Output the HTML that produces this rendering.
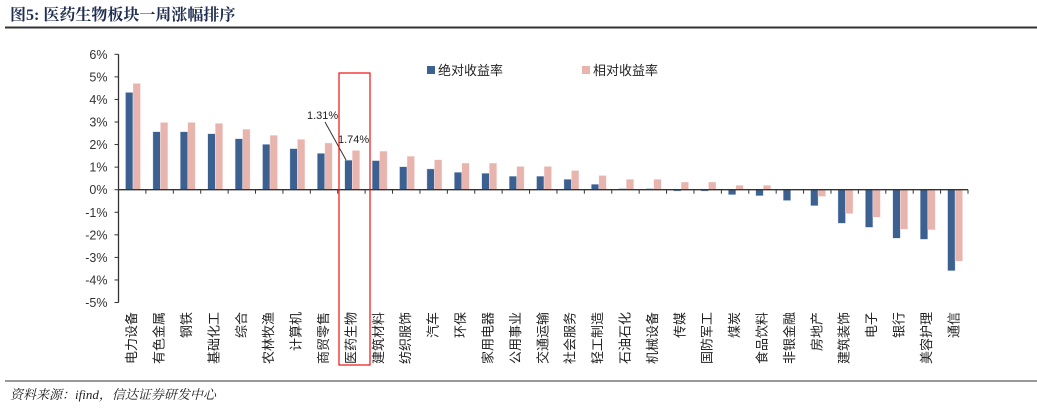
<!DOCTYPE html>
<html><head><meta charset="utf-8"><style>
html,body{margin:0;padding:0;background:#fff;}
svg{display:block;}
</style></head><body>
<svg id="chart" width="1037" height="409" xmlns="http://www.w3.org/2000/svg">
<text x="10" y="20" font-family="'Liberation Serif','Noto Serif CJK SC',serif" font-weight="bold" font-size="16" fill="#1f2d50">图5: 医药生物板块一周涨幅排序</text>
<line x1="5" y1="27.5" x2="1037" y2="27.5" stroke="#333" stroke-width="2"/>
<g id="yaxis"></g>
<g id="bars"></g>
<g id="xaxis"></g>
<rect x="427" y="66" width="8" height="8" fill="#3c6190"/>
<text x="438" y="75" font-family="'Liberation Sans','Noto Sans CJK SC',sans-serif" font-size="13" fill="#222">绝对收益率</text>
<rect x="582" y="66" width="8" height="8" fill="#e8b4ae"/>
<text x="593" y="75" font-family="'Liberation Sans','Noto Sans CJK SC',sans-serif" font-size="13" fill="#222">相对收益率</text>
<text x="307" y="119" font-family="'Liberation Sans',sans-serif" font-size="11" fill="#222">1.31%</text>
<text x="338" y="143" font-family="'Liberation Sans',sans-serif" font-size="11" fill="#222">1.74%</text>
<line x1="325" y1="122" x2="346" y2="160" stroke="#333" stroke-width="1"/>
<rect x="339" y="73" width="31" height="292" fill="none" stroke="#f01010" stroke-width="1.2"/>
<line x1="5" y1="381" x2="1037" y2="381" stroke="#333" stroke-width="1"/>
<text x="10" y="399" font-family="'Liberation Serif','Noto Serif CJK SC',serif" font-style="italic" font-size="13" fill="#222">资料来源：ifind，信达证券研发中心</text>
</svg>
<script>
const categories=["电力设备","有色金属","钢铁","基础化工","综合","农林牧渔","计算机","商贸零售","医药生物","建筑材料","纺织服饰","汽车","环保","家用电器","公用事业","交通运输","社会服务","轻工制造","石油石化","机械设备","传媒","国防军工","煤炭","食品饮料","非银金融","房地产","建筑装饰","电子","银行","美容护理","通信"];
const absReturn=[4.31,2.57,2.57,2.48,2.26,2.01,1.82,1.61,1.31,1.29,1.02,0.92,0.77,0.73,0.6,0.6,0.46,0.24,0.05,0.05,-0.06,-0.06,-0.22,-0.27,-0.48,-0.71,-1.49,-1.67,-2.15,-2.2,-3.59];
const relReturn=[4.71,2.98,2.98,2.94,2.68,2.41,2.23,2.07,1.74,1.71,1.48,1.33,1.18,1.18,1.03,1.03,0.85,0.63,0.46,0.46,0.34,0.34,0.2,0.2,0,-0.3,-1.06,-1.22,-1.75,-1.78,-3.17];
const yTicks=[6,5,4,3,2,1,0,-1,-2,-3,-4,-5];
const NS="http://www.w3.org/2000/svg";
const X0=118.5,X1=968,Y6=54.3,Y0=189.7;
const step=(X1-X0)/categories.length;
const y=v=>Y0-(v)*(Y0-Y6)/6;
const xc=i=>X0+i*step;
function mk(t,a,p){const e=document.createElementNS(NS,t);for(const k in a)e.setAttribute(k,a[k]);p.appendChild(e);return e;}
const ya=document.getElementById('yaxis'),ba=document.getElementById('bars'),xa=document.getElementById('xaxis');
const al=mk('line',{x1:X0,y1:y(6),x2:X0,y2:y(-5),stroke:'#333','stroke-width':1.3},ya);


yTicks.forEach(v=>{
 const tk=mk('line',{x1:X0-4,y1:y(v),x2:X0,y2:y(v),stroke:'#333','stroke-width':1},ya);
 
 
 const t=mk('text',{x:X0-11,y:y(v)+4.5,'text-anchor':'end','font-family':"'Liberation Sans',sans-serif",'font-size':12.5,fill:'#333'},ya);
 t.textContent=v+'%';
 
 
});
categories.forEach((c,i)=>{
 const a=absReturn[i],r=relReturn[i];
 const b1=mk('rect',{x:xc(i)+7,y:Math.min(y(a),Y0),width:7.5,height:Math.abs(y(a)-Y0),fill:'#3c6190',stroke:'#d8e2ee','stroke-width':0.4},ba);
 
 
 const b2=mk('rect',{x:xc(i)+14.5,y:Math.min(y(r),Y0),width:7.5,height:Math.abs(y(r)-Y0),fill:'#e8b4ae',stroke:'#fbeeee','stroke-width':0.4},ba);
 
 
 const tk=mk('line',{x1:xc(i+1),y1:Y0,x2:xc(i+1),y2:Y0+4,stroke:'#333','stroke-width':1},xa);
 
 
 const cx=xc(i)+step/2+4;
 const t=mk('text',{x:0,y:0,transform:`translate(${cx},312) rotate(-90)`,'text-anchor':'end','font-family':"'Liberation Sans','Noto Sans CJK SC',sans-serif",'font-size':13,fill:'#222'},xa);
 t.textContent=c;
 
 
});
const zl=mk('line',{x1:X0,y1:Y0,x2:X1,y2:Y0,stroke:'#333','stroke-width':1.3},xa);


</script>
</body></html>
